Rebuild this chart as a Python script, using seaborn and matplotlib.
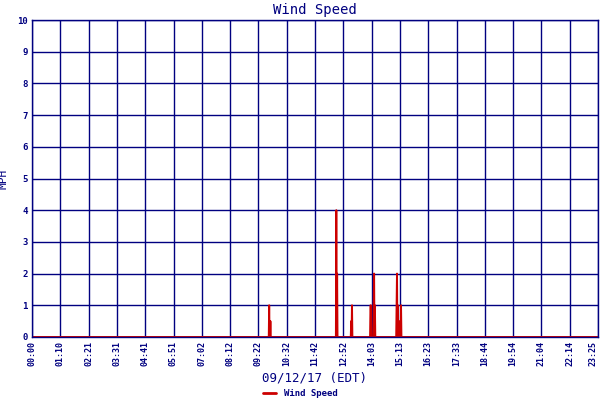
import numpy as np
import pandas as pd
import matplotlib
matplotlib.use("Agg")
import matplotlib.pyplot as plt
import seaborn as sns

# --- data (minutes after midnight, MPH) ---
spike_minutes = [590, 593, 757, 759, 794, 796, 842, 843, 850, 851, 853, 907, 908, 910, 915, 918]
spike_mph     = [1.0, 0.5, 4.0, 2.0, 0.5, 1.0, 1.0, 1.0, 1.0, 2.0, 1.0, 1.0, 2.0, 1.0, 0.5, 1.0]
end_minute = 1408
tick_labels = ["00:00", "01:10", "02:21", "03:31", "04:41", "05:51", "07:02", "08:12",
               "09:22", "10:32", "11:42", "12:52", "14:03", "15:13", "16:23", "17:33",
               "18:44", "19:54", "21:04", "22:14", "23:25"]
y_ticks = [0, 1, 2, 3, 4, 5, 6, 7, 8, 9, 10]

minutes = np.arange(0, end_minute + 1)
mph = np.zeros(len(minutes))
for m, v in zip(spike_minutes, spike_mph):
    mph[m] = v
df = pd.DataFrame({"minute": minutes, "Wind Speed": mph})

sns.set_style("white")
plt.rcParams["font.family"] = ["DejaVu Sans Mono"]
navy = "#000080"
red = "#CC0000"

fig = plt.figure(figsize=(6, 4), dpi=100)
ax = fig.add_axes([32/600, 1 - 337/400, 566/600, 317/400])

sns.lineplot(data=df, x="minute", y="Wind Speed", ax=ax, color=red, linewidth=1.4,
             label="Wind Speed", legend=False)

tick_pos = [i * end_minute / 20 for i in range(21)]
ax.set_xticks(tick_pos)
ax.set_xticklabels(tick_labels, rotation=90, fontsize=6, color=navy, fontweight="bold")
ax.get_xticklabels()[-1].set_horizontalalignment("right")
ax.set_yticks(y_ticks)
ax.set_yticklabels([str(v) for v in y_ticks], fontsize=6.5, color=navy, fontweight="bold")
ax.set_xlim(0, end_minute)
ax.set_ylim(0, 10)
ax.grid(True, color=navy, linewidth=1.0)
ax.set_axisbelow(True)
ax.tick_params(length=0, pad=3)
for s in ax.spines.values():
    s.set_color(navy)
    s.set_linewidth(1.0)

ax.set_xlabel("09/12/17 (EDT)", fontsize=9, color=navy, labelpad=4)
ax.set_ylabel("MPH", fontsize=8, color=navy, labelpad=6)
ax.set_title("Wind Speed", fontsize=10, color=navy, pad=4)

from matplotlib.lines import Line2D
handle = Line2D([0], [0], color=red, linewidth=2)
fig.legend([handle], ["Wind Speed"], loc="center", bbox_to_anchor=(0.5, 1 - 394/400),
           frameon=False, labelcolor=navy, handlelength=1.5,
           prop={"weight": "bold", "size": 6.5, "family": "DejaVu Sans Mono"})

fig.savefig("out.png", dpi=100)
